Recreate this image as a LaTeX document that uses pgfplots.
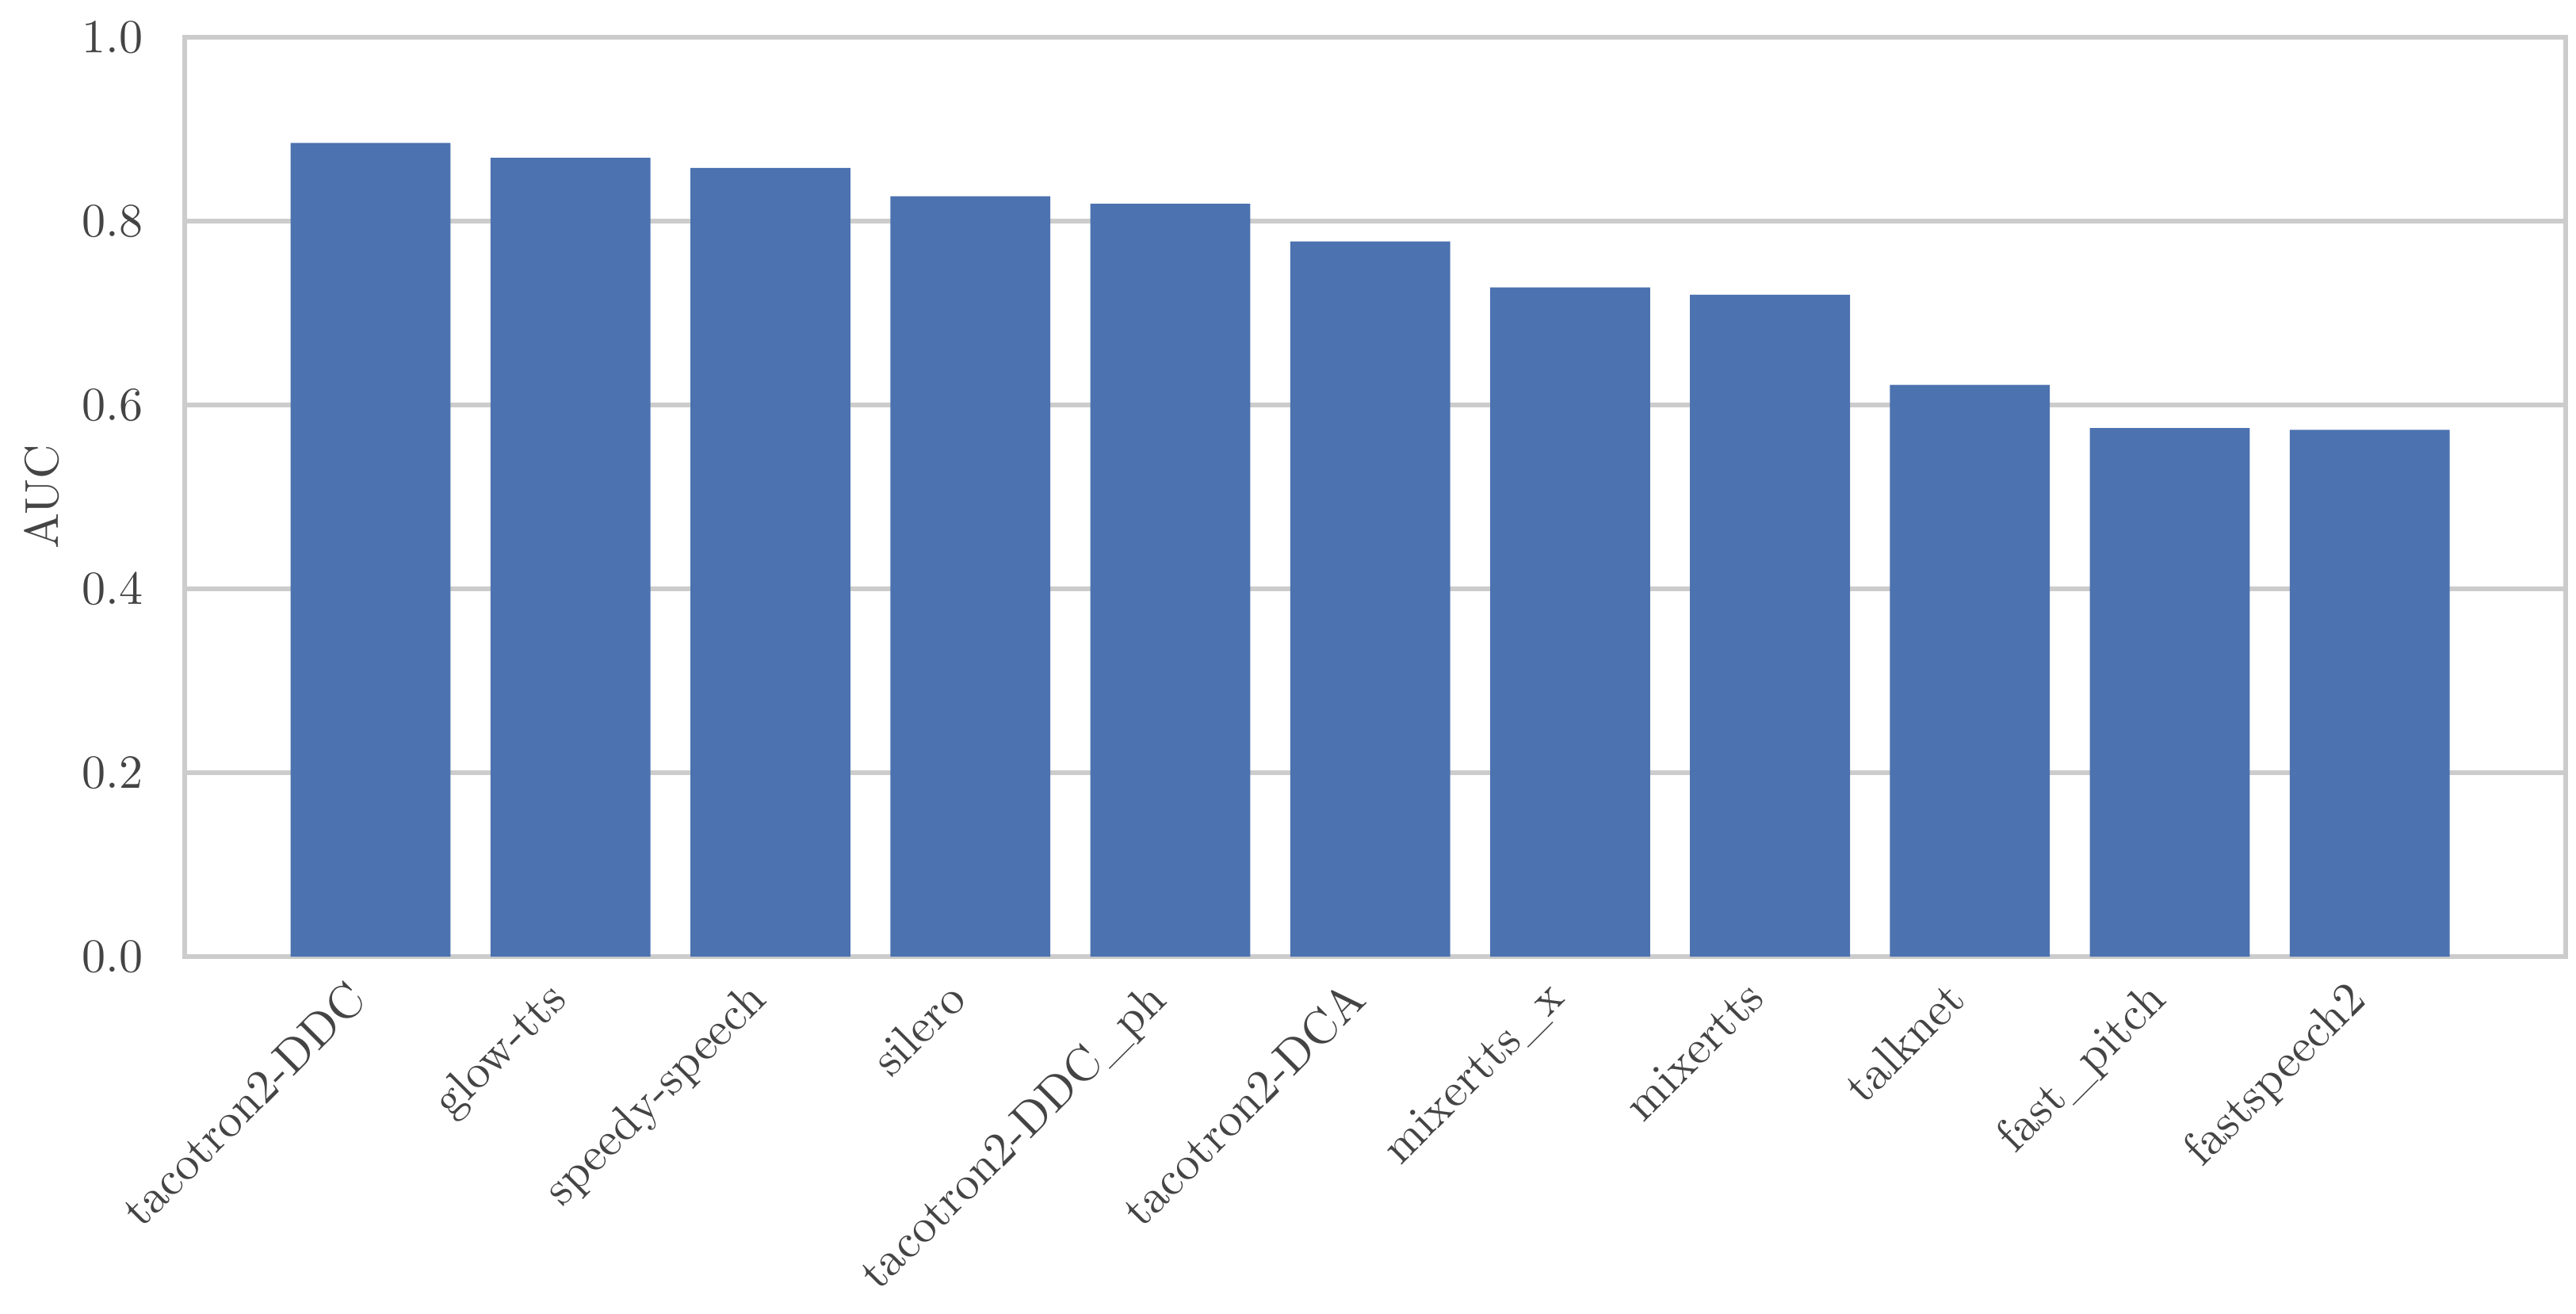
\documentclass[border=0pt]{standalone}
\usepackage{pgfplots}
\pgfplotsset{compat=1.18}
\definecolor{bardeep}{HTML}{4C72B0}
\definecolor{gridgray}{HTML}{CCCCCC}
\definecolor{txtgray}{HTML}{444444}

\begin{document}
\begin{tikzpicture}
\begin{axis}[
  at={(0,0)}, anchor=south west,
  scale only axis,
  width=500.67pt, height=193.33pt,
  ybar, bar width=0.8, bar shift=0pt,
  xmin=-0.93, xmax=10.98,
  ymin=0, ymax=1,
  xtick=data,
  xticklabels={tacotron2-DDC, glow-tts, speedy-speech, silero,
    tacotron2-DDC\_ph, tacotron2-DCA, mixertts\_x, mixertts,
    talknet, fast\_pitch, fastspeech2},
  ytick={0,0.2,0.4,0.6,0.8,1.0},
  yticklabel style={/pgf/number format/fixed, /pgf/number format/fixed zerofill,
    /pgf/number format/precision=1, xshift=-5.2pt, text=txtgray},
  xticklabel style={xshift=-5.4pt, yshift=-4.3pt, rotate=45, anchor=north east,
    inner sep=0pt, text=txtgray},
  major tick length=0pt,
  ymajorgrids,
  major grid style={gridgray, line width=1pt},
  axis line style={gridgray, line width=1.1pt},
  ylabel={AUC},
  ylabel style={at={(axis description cs:-0.060,0.5)}, anchor=center, text=txtgray},
]
\addplot[fill=bardeep, draw=none] coordinates {
  (0,0.885) (1,0.869) (2,0.858) (3,0.827) (4,0.819) (5,0.778)
  (6,0.728) (7,0.720) (8,0.622) (9,0.575) (10,0.573)
};
\end{axis}
\pgfresetboundingbox
\path[use as bounding box] (-38.83pt,-75pt) rectangle (502.84pt,201.17pt);
\end{tikzpicture}
\end{document}
